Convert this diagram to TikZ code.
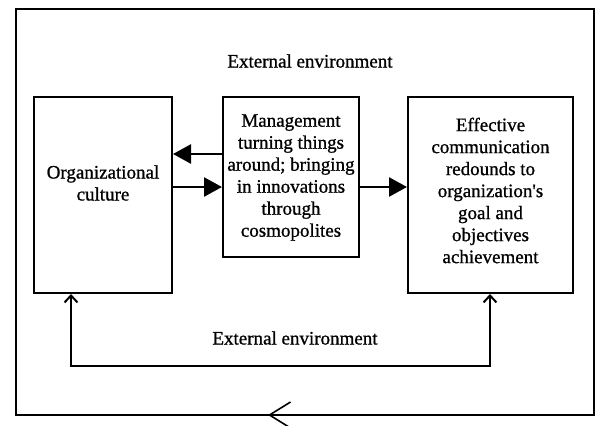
\documentclass[tikz,border=0pt]{standalone}
\usepackage{fontspec}
\newfontfamily\diagfont{Liberation Serif}[FakeBold=0.9]
\usetikzlibrary{arrows.meta}
\tikzset{feedtip/.tip={Straight Barb[length=7pt,width=13pt,line width=2pt]}}
\begin{document}
\begin{tikzpicture}[x=1pt,y=-1pt,
  box/.style={draw, line width=2pt, inner sep=0pt},
  lbl/.style={align=center, font=\diagfont\fontsize{19}{22}\selectfont, inner sep=0pt},
  flow/.style={line width=2.6pt, -{Triangle[length=18pt,width=19pt]}}]
\useasboundingbox (0,0) rectangle (595,426);

% outer frame
\coordinate (f1) at (16,9);
\coordinate (f2) at (593.5,415);
\draw[line width=2pt] (f1) rectangle (f2);
\coordinate (ftail) at (300,415);
\coordinate (ftip) at (268,415);
\draw[line width=1.6pt, -{Straight Barb[length=21pt,width=26pt,line width=1.6pt]}] (ftail) -- (ftip);

\node[lbl] (envtop) at (310,61) {External environment};

% boxes
\node[box, minimum width=138pt, minimum height=196pt] (org) at (103,195) {};
\node[box, minimum width=136pt, minimum height=160pt] (mid) at (291,177) {};
\node[box, minimum width=165pt, minimum height=196pt] (goal) at (490.5,195) {};

\node[lbl] (orgtext) at (103,183) {Organizational\\culture};
\node[lbl] (midtext) at (291,177.5) {Management\\turning things\\around; bringing\\in innovations\\through\\cosmopolites};
\node[lbl] (goaltext) at (490.5,190.5) {Effective\\communication\\redounds to\\organization's\\goal and\\objectives\\achievement};

% flows between boxes
\draw[flow] ([yshift=23pt]mid.west) -- ([yshift=41pt]org.east);
\draw[flow] ([yshift=8pt]org.east) -- ([yshift=-10pt]mid.west);
\draw[flow] ([yshift=-10pt]mid.east) -- ([yshift=8pt]goal.west);

% feedback loop
\coordinate (lb) at (71,366);
\coordinate (rb) at (490,366);
\draw[line width=2pt, line join=miter, feedtip-feedtip] (org.south -| lb) -- (lb) -- (rb) -- (goal.south -| rb);
\node[lbl] (envbot) at (295,338) {External environment};
\end{tikzpicture}
\end{document}
